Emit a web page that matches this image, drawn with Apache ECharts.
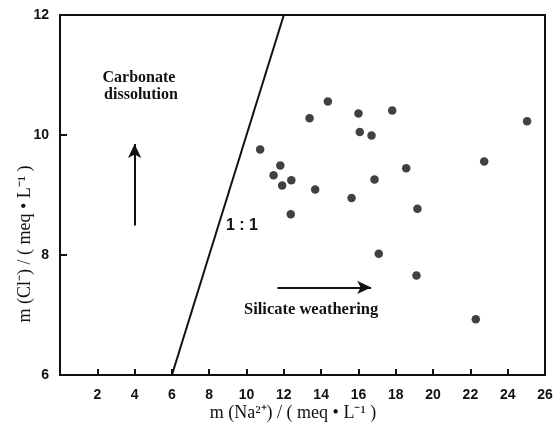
<!DOCTYPE html>
<html>
<head>
<meta charset="utf-8">
<script src="https://cdn.jsdelivr.net/npm/echarts@6/dist/echarts.min.js"></script>
<style>html,body{margin:0;padding:0;background:#fff;}#c{width:556px;height:428px;}</style>
</head>
<body>
<div id="c"></div>
<script>
// Data
var naValues = [14.36, 13.38, 16.0, 17.81, 16.07, 16.70, 25.04, 10.73, 11.81, 11.45, 12.40, 11.91, 13.68, 16.86, 18.56, 15.63, 19.16, 12.37, 22.74, 17.09, 19.11, 22.29];
var clValues = [10.56, 10.28, 10.36, 10.41, 10.05, 9.99, 10.23, 9.76, 9.49, 9.33, 9.245, 9.16, 9.09, 9.26, 9.445, 8.95, 8.77, 8.68, 9.56, 8.02, 7.66, 6.93];
var refLineX = [6, 12];
var refLineY = [6, 12];
var upArrowX = [4, 4];
var upArrowY = [8.49, 9.85];
var rightArrowX = [11.66, 16.68];
var rightArrowY = [7.46, 7.46];
var xTicks = [0, 26, 2];
var yTicks = [6, 12, 2];

var points = naValues.map(function (v, i) { return [v, clValues[i]]; });
var lineData = refLineX.map(function (v, i) { return [v, refLineY[i]]; });

var ink = '#111';
var chart = echarts.init(document.getElementById('c'));
chart.setOption({
  animation: false,
  backgroundColor: '#fff',
  grid: { left: 60, right: 11, top: 15, bottom: 53, show: true, borderColor: ink, borderWidth: 2 },
  xAxis: {
    type: 'value', min: xTicks[0], max: xTicks[1], interval: xTicks[2],
    splitLine: { show: false },
    axisLine: { lineStyle: { color: ink, width: 2 } },
    axisTick: { inside: true, length: 6, lineStyle: { color: ink, width: 2 } },
    axisLabel: { showMinLabel: false, color: ink, fontFamily: 'Liberation Sans', fontWeight: 'bold', fontSize: 14, margin: 13 }
  },
  yAxis: {
    type: 'value', min: yTicks[0], max: yTicks[1], interval: yTicks[2],
    splitLine: { show: false },
    axisLine: { lineStyle: { color: ink, width: 2 } },
    axisTick: { inside: true, length: 7, lineStyle: { color: ink, width: 2 } },
    axisLabel: { color: ink, fontFamily: 'Liberation Sans', fontWeight: 'bold', fontSize: 14, margin: 11 }
  },
  series: [
    {
      type: 'line', data: lineData, symbol: 'none',
      lineStyle: { color: ink, width: 2 },
      markLine: {
        silent: true,
        symbol: ['none', 'arrow'],
        symbolSize: [10, 14],
        lineStyle: { color: ink, width: 2, type: 'solid' },
        label: { show: false },
        data: [
          [{ coord: [upArrowX[0], upArrowY[0]] }, { coord: [upArrowX[1], upArrowY[1]] }],
          [{ coord: [rightArrowX[0], rightArrowY[0]] }, { coord: [rightArrowX[1], rightArrowY[1]] }]
        ]
      }
    },
    {
      type: 'scatter', data: points, symbol: 'circle', symbolSize: 8.5,
      itemStyle: { color: ink }
    }
  ],
  graphic: [
    { type: 'text', style: { text: 'Carbonate', align: 'center', verticalAlign: 'middle', fill: ink, font: 'bold 16px "Liberation Serif"' }, position: [139, 78] },
    { type: 'text', style: { text: 'dissolution', align: 'center', verticalAlign: 'middle', fill: ink, font: 'bold 16px "Liberation Serif"' }, position: [141, 95] },
    { type: 'text', style: { text: '1 : 1', align: 'center', verticalAlign: 'middle', fill: ink, font: 'bold 16px "Liberation Sans"' }, position: [242, 226] },
    { type: 'text', style: { text: 'Silicate weathering', align: 'left', verticalAlign: 'middle', fill: ink, font: 'bold 16.5px "Liberation Serif"' }, position: [244, 310] },
    { type: 'text', style: { text: 'm (Na²⁺) / ( meq • L⁻¹ )', align: 'center', verticalAlign: 'middle', fill: ink, font: '18px "Liberation Serif"' }, position: [293, 413] },
    { type: 'text', style: { text: 'm (Cl⁻) / ( meq • L⁻¹ )', align: 'center', verticalAlign: 'middle', fill: ink, font: '18px "Liberation Serif"' }, position: [25, 244], rotation: Math.PI / 2 }
  ]
});
</script>
</body>
</html>
